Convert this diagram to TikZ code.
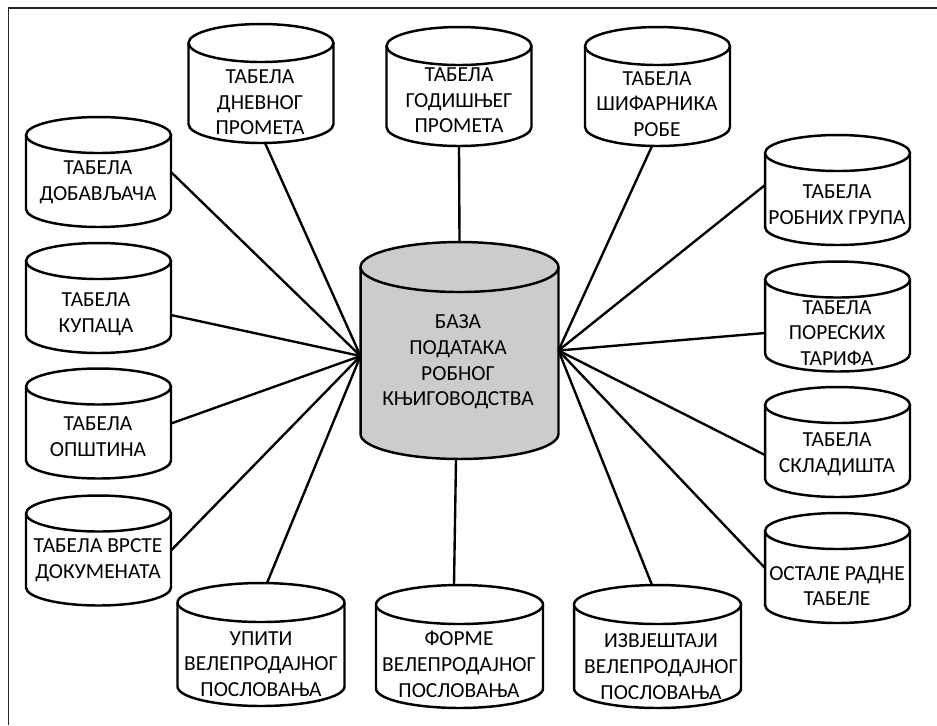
\documentclass[tikz,border=0pt]{standalone}
\usepackage{fontspec}
\setmainfont{Carlito}

\tikzset{
  baza/.style={rectangle,inner sep=0pt,outer sep=0pt,minimum width=2.9cm,minimum height=2.2cm},
  visoka/.style={baza,minimum height=2.38cm},
  velika/.style={baza,minimum width=3.34cm,minimum height=2.46cm},
  natpis/.style={align=center,inner sep=0pt,font=\fontsize{12.2}{14.6}\selectfont},
  limenka/.style={line width=1.4pt,line join=round},
  veza/.style={line width=1.35pt},
}

\begin{document}
\begin{tikzpicture}[x=0.02cm,y=-0.02cm]
  \useasboundingbox (0,0) rectangle (937,725);
  \draw[line width=0.7pt,black!85] (8.5,725) -- (8.5,8) -- (937,8);

  % gornji red
  \node[visoka] (dnevni) at (261,83.5) {};
  \node[visoka] (godisnji) at (459,86.5) {};
  \node[visoka] (sifarnik) at (657.5,86.5) {};
  % lijeva kolona
  \node[baza] (dobavljaci) at (98.5,172) {};
  \node[baza] (kupci) at (98.5,298) {};
  \node[baza] (opstine) at (98.5,423.5) {};
  \node[baza] (vrste) at (98.5,550.5) {};
  % desna kolona
  \node[baza] (grupe) at (837.5,190) {};
  \node[baza] (tarife) at (837.5,316.5) {};
  \node[baza] (skladista) at (837.5,442) {};
  \node[baza] (ostale) at (837.5,568) {};
  % donji red
  \node[velika] (upiti) at (261,644.5) {};
  \node[velika] (forme) at (459.5,646.5) {};
  \node[velika] (izvjestaji) at (657.5,646.5) {};
  % sredina
  \node[baza,minimum width=3.96cm,minimum height=4.34cm] (centar) at (459.5,350.5) {};

  \foreach \n/\rx/\ry/\boja in {dnevni/1.45/0.38/white,godisnji/1.45/0.38/white,sifarnik/1.45/0.38/white,
      dobavljaci/1.45/0.36/white,kupci/1.45/0.36/white,opstine/1.45/0.36/white,vrste/1.45/0.36/white,
      grupe/1.45/0.36/white,tarife/1.45/0.36/white,skladista/1.45/0.36/white,ostale/1.45/0.36/white,
      upiti/1.67/0.39/white,forme/1.67/0.39/white,izvjestaji/1.67/0.39/white,centar/1.98/0.5/black!20}
  {
    \draw[limenka,fill=\boja] ([yshift=-\ry cm]\n.north west) -- ([yshift=\ry cm]\n.south west)
      arc[start angle=180,end angle=360,x radius=\rx cm,y radius=\ry cm] -- ([yshift=-\ry cm]\n.north east);
    \draw[limenka,fill=\boja] ([yshift=-\ry cm]\n.north) ellipse[x radius=\rx cm,y radius=\ry cm];
  }

  \node[natpis] (dnevniT) at (260,102.5) {ТАБЕЛА\\ДНЕВНОГ\\ПРОМЕТА};
  \node[natpis] (godisnjiT) at (459,100.5) {ТАБЕЛА\\ГОДИШЊЕГ\\ПРОМЕТА};
  \node[natpis] (sifarnikT) at (657,104) {ТАБЕЛА\\ШИФАРНИКА\\РОБЕ};
  \node[natpis] (dobavljaciT) at (98,182) {ТАБЕЛА\\ДОБАВЉАЧА};
  \node[natpis] (kupciT) at (96,314.5) {ТАБЕЛА\\КУПАЦА};
  \node[natpis] (opstineT) at (98,436.5) {ТАБЕЛА\\ОПШТИНА};
  \node[natpis] (vrsteT) at (98,560.5) {ТАБЕЛА ВРСТЕ\\ДОКУМЕНАТА};
  \node[natpis] (grupeT) at (837,204.5) {ТАБЕЛА\\РОБНИХ ГРУПА};
  \node[natpis] (tarifeT) at (837,333) {ТАБЕЛА\\ПОРЕСКИХ\\ТАРИФА};
  \node[natpis] (skladistaT) at (837,454.5) {ТАБЕЛА\\СКЛАДИШТА};
  \node[natpis] (ostaleT) at (837,586) {ОСТАЛЕ РАДНЕ\\ТАБЕЛЕ};
  \node[natpis] (upitiT) at (261,664) {УПИТИ\\ВЕЛЕПРОДАЈНОГ\\ПОСЛОВАЊА};
  \node[natpis] (formeT) at (459,664.5) {ФОРМЕ\\ВЕЛЕПРОДАЈНОГ\\ПОСЛОВАЊА};
  \node[natpis] (izvjestajiT) at (661,666.5) {ИЗВЈЕШТАЈИ\\ВЕЛЕПРОДАЈНОГ\\ПОСЛОВАЊА};
  \node[natpis] (centarT) at (458,362) {БАЗА\\ПОДАТАКА\\РОБНОГ\\КЊИГОВОДСТВА};

  \coordinate (lijevo) at ([yshift=-0.11cm]centar.west);
  \coordinate (desno) at (centar.east);
  \draw[veza] ([xshift=0.08cm]dnevni.south) -- (lijevo);
  \draw[veza] (godisnji.south) -- (centar.north);
  \draw[veza] ([xshift=-0.11cm]sifarnik.south) -- (desno);
  \draw[veza] (dobavljaci.east) -- (lijevo);
  \draw[veza] ([yshift=-0.34cm]kupci.east) -- (lijevo);
  \draw[veza] (opstine.east) -- (lijevo);
  \draw[veza] (vrste.east) -- (lijevo);
  \draw[veza] ([yshift=0.1cm]grupe.west) -- (desno);
  \draw[veza] ([yshift=-0.33cm]tarife.west) -- (desno);
  \draw[veza] ([yshift=-0.26cm]skladista.west) -- (desno);
  \draw[veza] (ostale.west) -- (desno);
  \draw[veza] ([xshift=0.12cm]upiti.north) -- (lijevo);
  \draw[veza] ([xshift=-0.11cm]forme.north) -- ([xshift=-0.07cm]centar.south);
  \draw[veza] ([xshift=-0.11cm]izvjestaji.north) -- (desno);
\end{tikzpicture}
\end{document}
